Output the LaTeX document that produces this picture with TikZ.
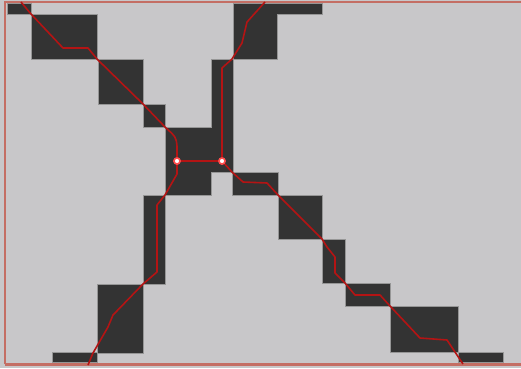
\documentclass[tikz,border=0pt]{standalone}
\begin{document}
\definecolor{bg}{RGB}{200,199,201}
\definecolor{blk}{RGB}{51,51,51}
\definecolor{edge}{RGB}{150,150,150}
\definecolor{frame}{RGB}{196,110,100}
\definecolor{path}{RGB}{180,20,20}
\begin{tikzpicture}[x=1pt,y=-1pt,
  block/.style={fill=blk,draw=edge,line width=1pt},
  route/.style={draw=path,line width=1.6pt,line join=round},
  via/.style={circle,fill=white,draw=red!70!white,line width=1.5pt,inner sep=0pt,minimum size=6pt}]
\fill[bg] (0,0) rectangle (521,368);
\useasboundingbox (0,0) rectangle (521,368);
% blocks
\foreach \a/\b/\c/\d in {7/3/31/14, 31/14/97/59, 98/59/143/104, 143/104/165/127,
  232/172/278/195, 278/195/322/239, 322/239/345/283, 345/283/390/306,
  390/306/458/352, 458/352/503/362, 143/195/165/284, 97/284/143/353, 52/352/97/362}
  {\path[block] (\a,\b) rectangle (\c,\d);}
\path[block] (233,3) -- (322,3) -- (322,14) -- (277,14) -- (277,59) -- (233,59) -- cycle;
\path[block] (211,59) -- (233,59) -- (233,172) -- (211,172) -- (211,195) -- (165,195)
  -- (165,127) -- (211,127) -- cycle;
% frame
\draw[frame,line width=2.5pt] (5,364) -- (5,2) -- (521,2);
\draw[frame,line width=3pt] (5,364.5) -- (521,364.5);
% vias
\node[via] (L) at (177,161) {};
\node[via] (R) at (222,161) {};
% routes
\path[route] (21,2) -- (31,14) -- (63,48) -- (88,48) -- (97,59) -- (143,104) -- (165,127)
  .. controls (176,137) .. (177,146) -- (L);
\path[route] (L) -- (177,174) -- (165,195) -- (157,205) -- (157,272) -- (143,284)
  -- (113,315) -- (108,327) -- (93,353) -- (88,365);
\path[route] (L) -- (R);
\path[route] (R) -- (222,68) -- (232,59) -- (242,43) -- (247,22) -- (265,2);
\path[route] (R) -- (232,172) -- (243,182) -- (267,183) -- (278,195) -- (322,239)
  -- (327,247) -- (335,257) -- (335,273) -- (345,283) -- (355,295) -- (380,295)
  -- (390,306) -- (420,338) -- (447,340) -- (463,364);
\node[via] at (L) {};
\node[via] at (R) {};
\end{tikzpicture}
\end{document}
